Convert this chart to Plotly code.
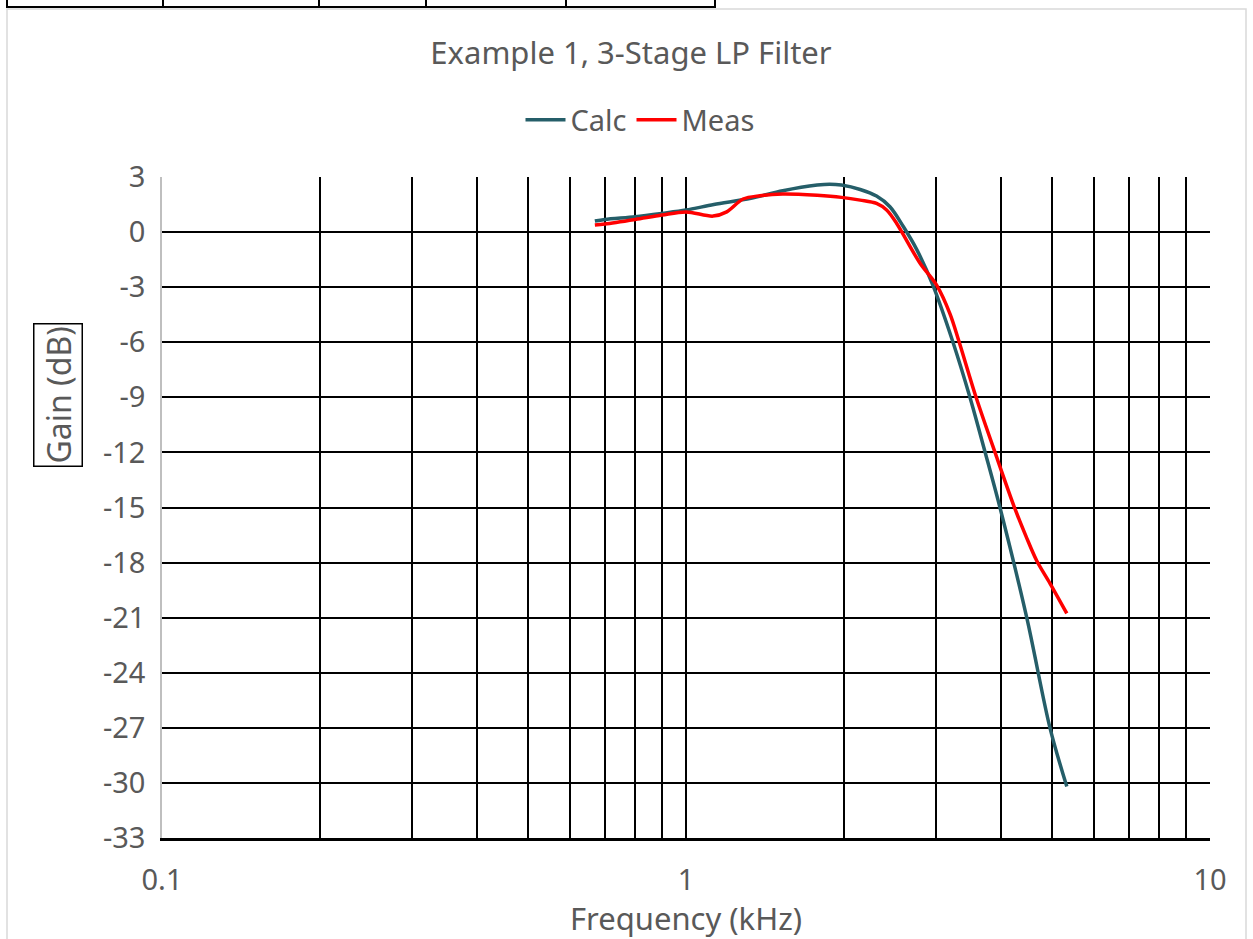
import plotly.graph_objects as go

# ---- data ----
calc_freq_khz = [0.67, 0.70, 0.80, 0.90, 1.00, 1.13, 1.33, 1.53, 1.78, 1.88, 1.98, 2.15, 2.31,
                 2.45, 2.60, 2.76, 2.96, 3.23, 3.48, 3.72, 3.97, 4.47, 4.95, 5.33]
calc_gain_db = [0.60, 0.69, 0.84, 1.02, 1.20, 1.50, 1.84, 2.25, 2.56, 2.61, 2.56, 2.32, 1.96,
                1.38, 0.29, -0.98, -2.90, -5.97, -8.97, -11.96, -14.96, -21.0, -27.0, -30.2]

meas_freq_khz = [0.67, 0.70, 0.80, 0.90, 1.00, 1.126, 1.196, 1.285, 1.384, 1.53, 1.78, 1.98,
                 2.15, 2.31, 2.415, 2.524, 2.797, 3.01, 3.19, 3.32, 3.575, 3.91, 4.23,
                 4.46, 4.67, 4.95, 5.33]
meas_gain_db = [0.38, 0.44, 0.69, 0.93, 1.10, 0.87, 1.10, 1.80, 1.98, 2.07, 2.00, 1.89,
                1.74, 1.56, 1.20, 0.47, -1.70, -2.90, -4.45, -5.97, -8.97, -12.2, -14.96,
                -16.6, -17.90, -19.13, -20.77]

x_tick_vals = [0.1, 0.2, 0.3, 0.4, 0.5, 0.6, 0.7, 0.8, 0.9,
               1, 2, 3, 4, 5, 6, 7, 8, 9, 10]
x_tick_text = ["0.1", "", "", "", "", "", "", "", "",
               "1", "", "", "", "", "", "", "", "", "10"]
y_tick_vals = [3, 0, -3, -6, -9, -12, -15, -18, -21, -24, -27, -30, -33]
y_tick_text = ["3", "0", "-3", "-6", "-9", "-12", "-15", "-18", "-21", "-24", "-27", "-30", "-33"]

TEXT = "#595959"
FONT = "Noto Sans"
FS = 29

fig = go.Figure()
fig.add_trace(go.Scatter(x=calc_freq_khz, y=calc_gain_db, name="Calc", mode="lines",
                         line=dict(color="#255E69", width=3.5, shape="spline", smoothing=0.9)))
fig.add_trace(go.Scatter(x=meas_freq_khz, y=meas_gain_db, name="Meas", mode="lines",
                         line=dict(color="#FF0000", width=3.5, shape="spline", smoothing=0.9)))

W, H = 1253, 939
L, R, T, B = 162, 1210, 177, 838
fig.update_layout(
    width=W, height=H,
    margin=dict(l=L, r=W - R, t=T, b=H - B, autoexpand=False),
    paper_bgcolor="white", plot_bgcolor="white",
    font=dict(family=FONT, color=TEXT, size=FS),
    title=dict(text="Example 1, 3-Stage LP Filter", x=631 / W, xanchor="center", xref="container",
               y=1 - 53 / H, yanchor="middle", font=dict(size=31, color=TEXT, family=FONT)),
    legend=dict(orientation="h", x=640 / W, xanchor="center", xref="container",
                y=1 - 120 / H, yanchor="middle", yref="container",
                font=dict(size=FS, color=TEXT), bgcolor="rgba(0,0,0,0)", itemwidth=40),
    showlegend=True,
)
fig.update_xaxes(type="log", range=[-1, 1], tickvals=x_tick_vals, ticktext=x_tick_text,
                 showgrid=True, gridcolor="black", gridwidth=1.8,
                 showline=True, linecolor="black", linewidth=2.5,
                 ticks="", ticklabelstandoff=14,
                 title=dict(text="Frequency (kHz)", standoff=9, font=dict(size=31, color=TEXT)),
                 tickfont=dict(size=FS, color=TEXT), zeroline=False, mirror=False)
fig.update_yaxes(range=[-33, 3], tickvals=y_tick_vals, ticktext=y_tick_text,
                 showgrid=True, gridcolor="black", gridwidth=1.8,
                 showline=True, linecolor="#BFBFBF", linewidth=1.5,
                 ticks="", ticklabelstandoff=9, zeroline=False,
                 tickfont=dict(size=FS, color=TEXT))

# boxed y-axis title
fig.add_annotation(text="Gain (dB)", textangle=-90, xref="paper", yref="paper",
                   x=(58 - L) / (R - L), y=1 - (395 - T) / (B - T), xanchor="center", yanchor="middle",
                   showarrow=False, font=dict(size=32, color=TEXT, family=FONT),
                   bordercolor="black", borderwidth=1.5, borderpad=2)

# chart area border (light grey) and the table row above
shapes = [
    dict(type="rect", xref="paper", yref="paper",
         x0=(7 - L) / (R - L), x1=(1246 - L) / (R - L),
         y0=1 - (960 - T) / (B - T), y1=1 - (9 - T) / (B - T),
         line=dict(color="#D9D9D9", width=1.5), layer="below"),
    dict(type="line", xref="paper", yref="paper",
         x0=(7 - L) / (R - L), x1=(716 - L) / (R - L),
         y0=1 - (7 - T) / (B - T), y1=1 - (7 - T) / (B - T),
         line=dict(color="black", width=2)),
]
for xv in [7, 163, 319, 426, 566, 715]:
    shapes.append(dict(type="line", xref="paper", yref="paper",
                       x0=(xv - L) / (R - L), x1=(xv - L) / (R - L),
                       y0=1 - (8 - T) / (B - T), y1=1 - (-5 - T) / (B - T),
                       line=dict(color="black", width=2)))
fig.update_layout(shapes=shapes)

fig.write_html("out.html")
